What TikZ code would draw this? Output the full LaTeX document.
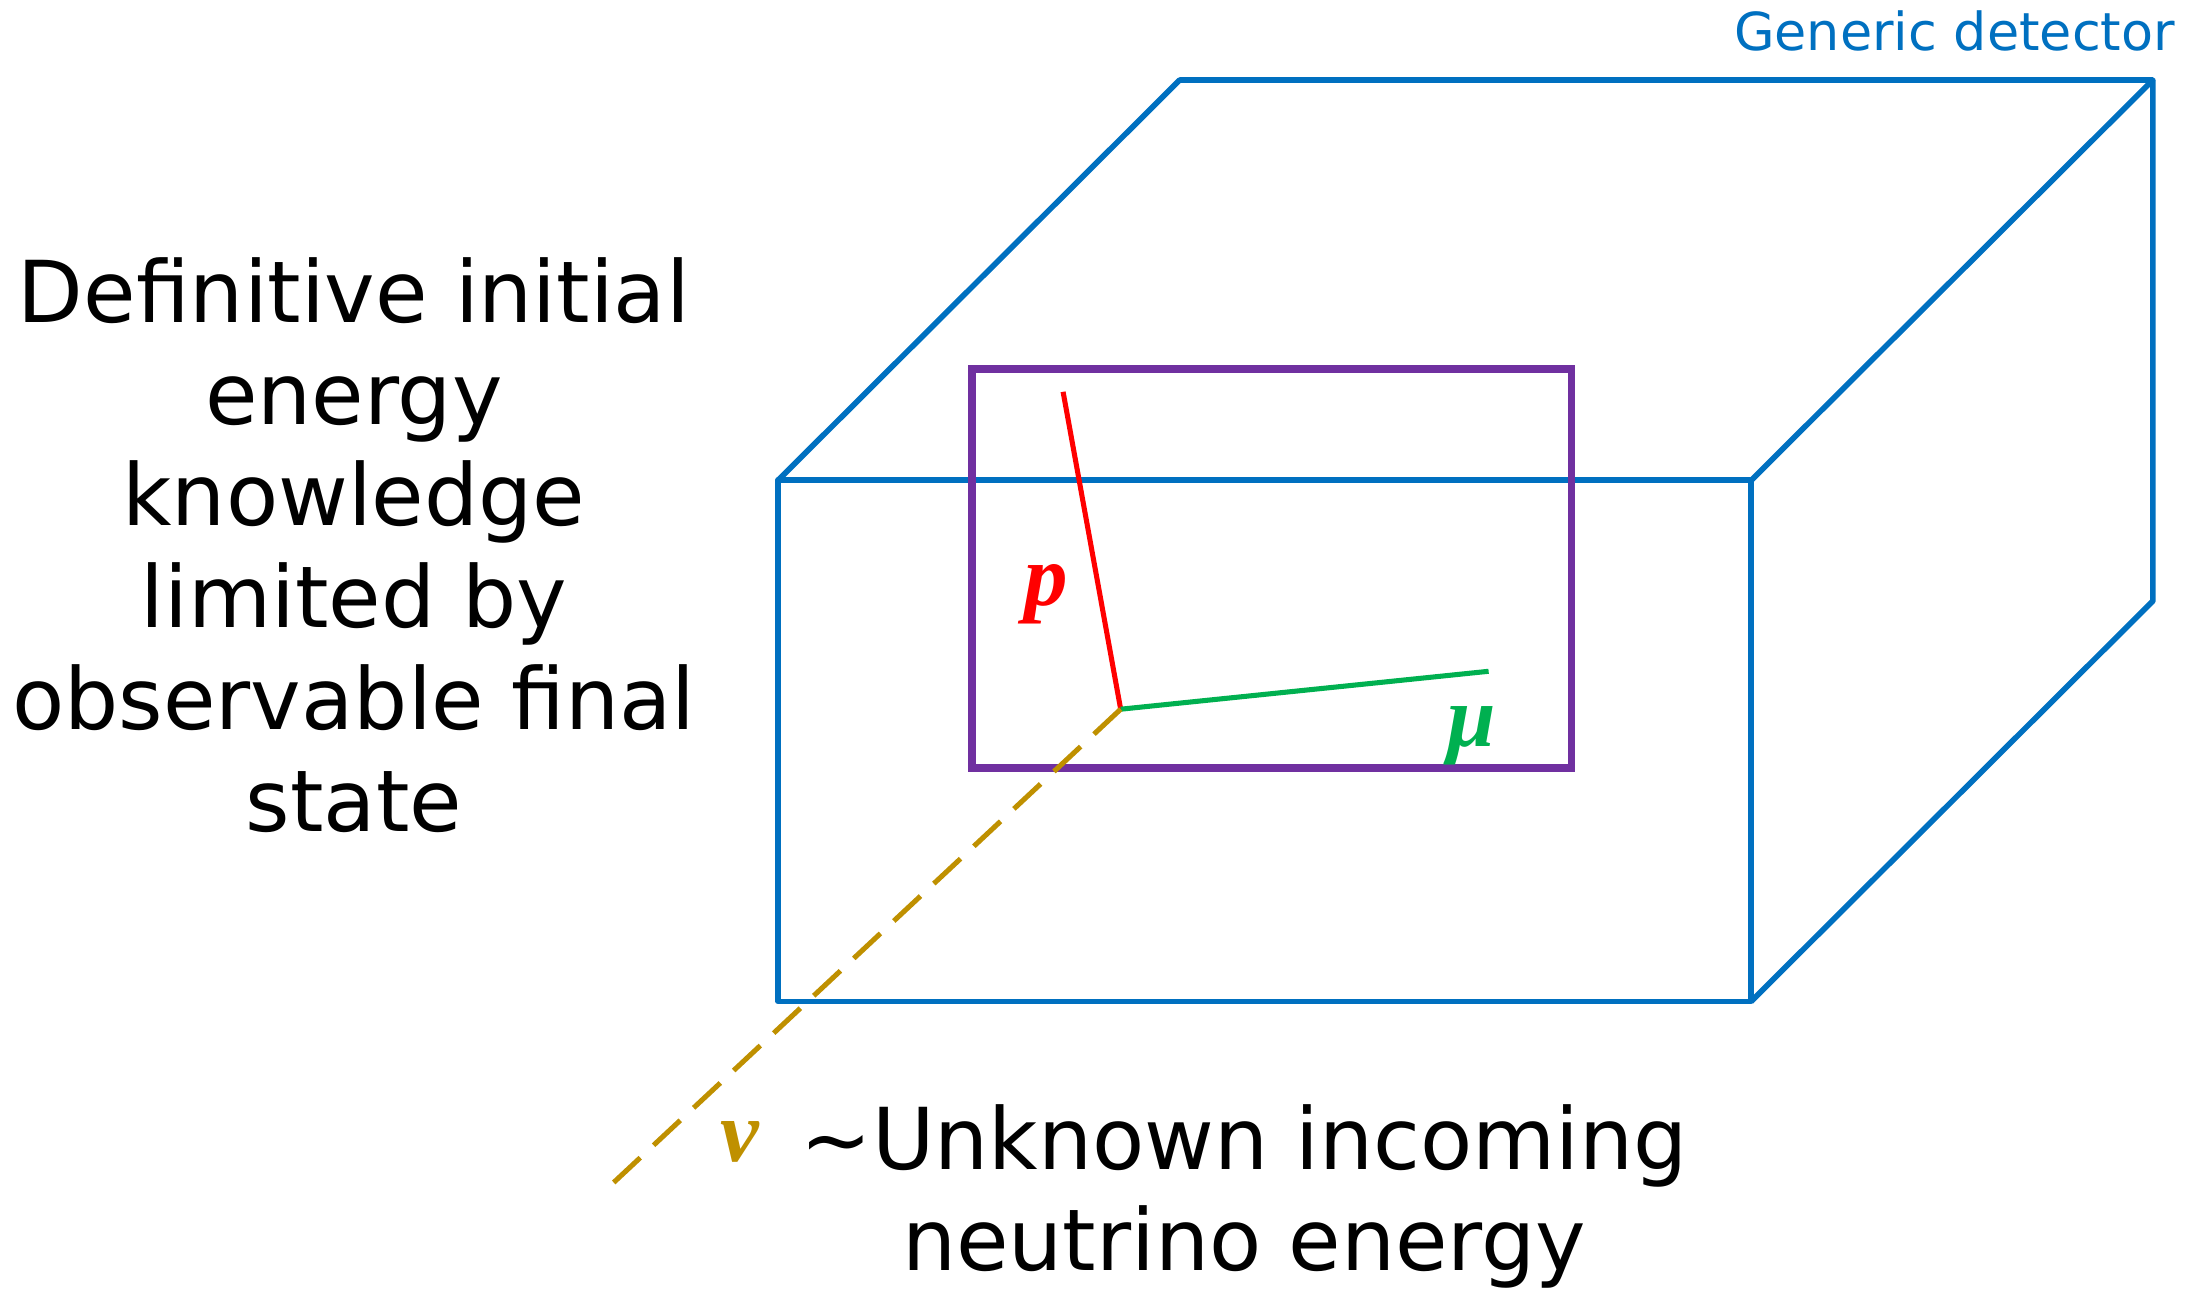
\documentclass[tikz,border=0pt]{standalone}
\usepackage{fontspec}
\setmainfont{DejaVu Sans}
\newfontfamily\greekfont{Liberation Serif}
\usepackage{xcolor}
\usepackage{tikz}
\usetikzlibrary{positioning,calc}

\definecolor{detblue}{HTML}{0070C0}
\definecolor{roipurple}{HTML}{7030A0}
\definecolor{muongreen}{HTML}{00B050}
\definecolor{nugold}{HTML}{BF9000}

\begin{document}
\begin{tikzpicture}[x=1pt,y=-1pt,
  det/.style={draw=detblue,line width=4pt,line join=round},
  roi/.style={draw=roipurple,line width=5.5pt},
  track/.style={line width=3.6pt},
  big/.style={font=\fontsize{60.8}{72.5}\selectfont,align=center,inner sep=0pt},
  plabel/.style={font=\fontsize{62}{62}\selectfont\greekfont\bfseries\itshape,inner sep=0pt}]
\useasboundingbox (0,0) rectangle (1568,922);
% detector box
\coordinate (fA) at (554,342);
\coordinate (fB) at (1247,342);
\coordinate (fC) at (1247,713);
\coordinate (fD) at (554,713);
\coordinate (bA) at (840,57);
\coordinate (bB) at (1533,57);
\coordinate (bC) at (1533,428);
\draw[det] (fA)--(fB)--(fC)--(fD)--cycle;
\draw[det] (fA)--(bA)--(bB)--(fB);
\draw[det] (bB)--(bC)--(fC);
\node[anchor=east,text=detblue,font=\fontsize{37.3}{37.3}\selectfont,inner sep=0pt] (gen) at (1549,22) {Generic detector};
% region of interest
\draw[roi] (692,263) rectangle (1119,547);
% tracks
\coordinate (vtx) at (798,505);
\coordinate (ptop) at (757,279);
\coordinate (muend) at (1060,478);
\coordinate (nuend) at (437,842);
\draw[track,red] (vtx)--(ptop);
\draw[track,muongreen] (vtx)--(muend);
\draw[track,nugold,dash pattern=on 26pt off 13pt] (vtx)--(nuend);
\node[plabel,text=red] (p) at (745,423) {p};
\node[plabel,text=muongreen] (mu) at (1048,524) {μ};
\node[plabel,text=nugold] (nu) at (527,813) {ν};
% texts
\node[big] (init) at (252,388) {Definitive initial\\energy\\knowledge\\limited by\\observable final\\state};
\node[big] (unk) at (886,852) {\char`\~Unknown incoming\\neutrino energy};
\end{tikzpicture}
\end{document}
